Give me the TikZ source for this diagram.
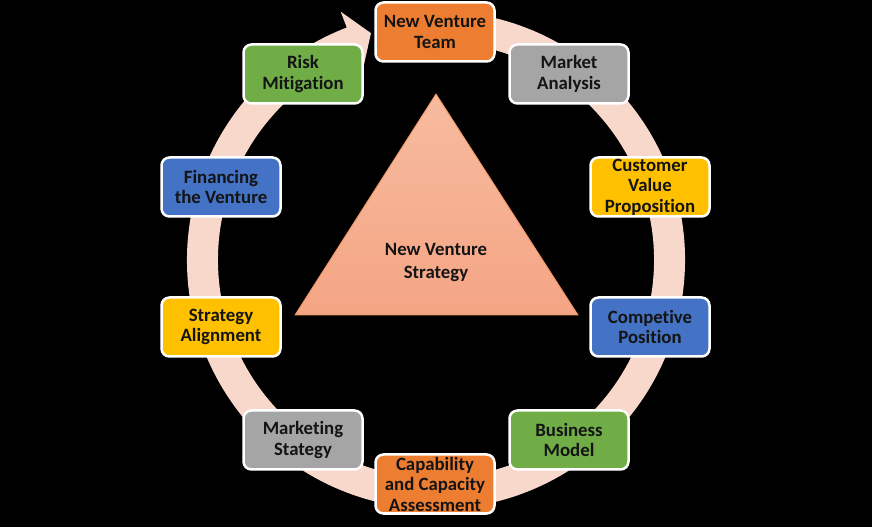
\documentclass[tikz,border=0pt]{standalone}
\usepackage{fontspec}
\setmainfont{Carlito}[Ligatures={NoCommon}]
\definecolor{ringc}{HTML}{F9D8CC}
\definecolor{borange}{HTML}{ED7D31}
\definecolor{bgrey}{HTML}{A5A5A5}
\definecolor{byellow}{HTML}{FFC000}
\definecolor{bblue}{HTML}{4472C4}
\definecolor{bgreen}{HTML}{70AD47}
\definecolor{tritop}{HTML}{F7BB9F}
\definecolor{tribot}{HTML}{F4A584}
\definecolor{triedge}{HTML}{F0945F}
\definecolor{txt}{HTML}{141414}
\tikzset{
  box/.style={draw=white, line width=2.5pt, rounded corners=8pt,
    minimum width=119pt, minimum height=59pt, inner sep=0pt, align=center,
    text=txt, font=\bfseries\fontsize{18.8}{20.5}\selectfont},
  tritext/.style={align=center, text=txt, font=\bfseries\fontsize{18.8}{23}\selectfont},
  ring/.style={fill=ringc},
  tri/.style={top color=tritop, bottom color=tribot, draw=triedge, line width=0.8pt}
}
\begin{document}
\begin{tikzpicture}[x=1pt,y=1pt]
\fill[black] (0,0) rectangle (872,527);
\useasboundingbox (0,0) rectangle (872,527);
% circular arrow
\begin{scope}[shift={(436,267)}]
\fill[ring] (80:249pt) arc[start angle=80, end angle=-249, radius=249pt]
  -- (-249:266pt) -- (-254:236pt) -- (-249:204pt) -- (-249:218pt)
  arc[start angle=-249, end angle=80, radius=218pt] -- cycle;
\end{scope}
% central triangle
\coordinate (apex) at (436,433);
\coordinate (bl) at (295,212);
\coordinate (br) at (578,212);
\shade[tri] (apex) -- (br) -- (bl) -- cycle;
\node[tritext] (strat) at (436,264) {New Venture\\Strategy};
% boxes
\node[box, fill=borange] (nvt) at (435,495) {New Venture\\Team};
\node[box, fill=bgrey]   (ma)  at (569,453) {Market\\Analysis};
\node[box, fill=byellow] (cvp) at (650,340) {Customer\\Value\\Proposition};
\node[box, fill=bblue]   (cp)  at (650,200) {Competive\\Position};
\node[box, fill=bgreen]  (bm)  at (569,87)  {Business\\Model};
\node[box, fill=borange] (cca) at (435,43)  {Capability\\and Capacity\\Assessment};
\node[box, fill=bgrey]   (ms)  at (303,87)  {Marketing\\Stategy};
\node[box, fill=byellow] (sa)  at (221,200) {Strategy\\Alignment};
\node[box, fill=bblue]   (fv)  at (221,340) {Financing\\the Venture};
\node[box, fill=bgreen]  (rm)  at (303,453) {Risk\\Mitigation};
\end{tikzpicture}
\end{document}
